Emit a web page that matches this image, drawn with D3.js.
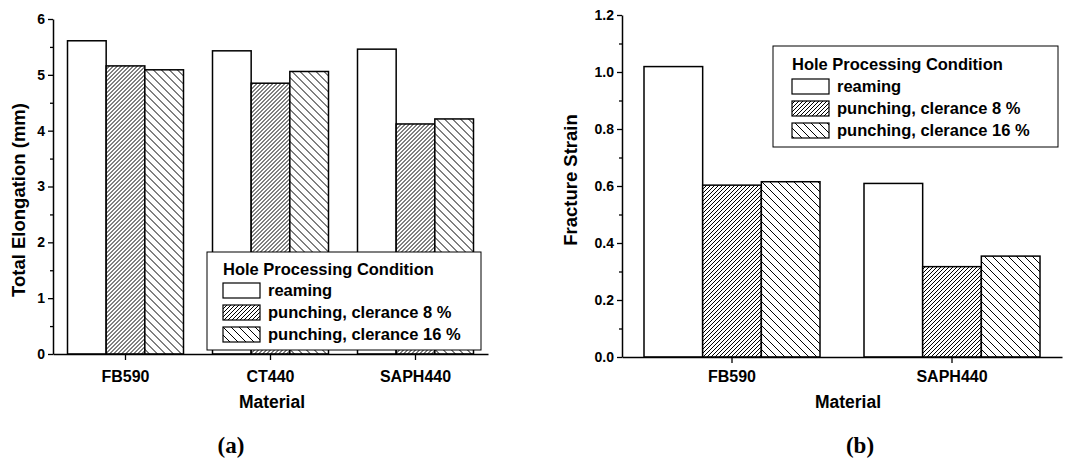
<!DOCTYPE html>
<html><head><meta charset="utf-8">
<script src="https://cdn.jsdelivr.net/npm/d3@7"></script>
<style>
body{margin:0;background:#fff;}
text{font-family:"Liberation Sans",Arial,sans-serif;font-weight:bold;fill:#000;}
</style></head>
<body><svg id="c" width="1075" height="459"></svg>
<script>
// ---- data ----
const seriesNames = ["reaming", "punching, clerance 8 %", "punching, clerance 16 %"];
const legendTitle = "Hole Processing Condition";

const materialsA = ["FB590", "CT440", "SAPH440"];
const reamingA = [5.61, 5.43, 5.46];
const punch8A = [5.16, 4.85, 4.12];
const punch16A = [5.09, 5.06, 4.21];
const yTicksA = [0, 1, 2, 3, 4, 5, 6];
const yMinorA = [0.5, 1.5, 2.5, 3.5, 4.5, 5.5];

const materialsB = ["FB590", "SAPH440"];
const reamingB = [1.019, 0.609];
const punch8B = [0.603, 0.317];
const punch16B = [0.615, 0.354];
const yTicksB = [0, 0.2, 0.4, 0.6, 0.8, 1.0, 1.2];
const yMinorB = [0.1, 0.3, 0.5, 0.7, 0.9, 1.1];

const svg = d3.select("#c");
const defs = svg.append("defs");
// patterns
const p1 = defs.append("pattern").attr("id","fine").attr("patternUnits","userSpaceOnUse")
  .attr("width",4).attr("height",4);
p1.append("rect").attr("width",4).attr("height",4).attr("fill","#fff");
p1.append("path").attr("d","M-1,1 L1,-1 M0,4 L4,0 M3,5 L5,3").attr("stroke","#000").attr("stroke-width",1);
const p2 = defs.append("pattern").attr("id","coarse").attr("patternUnits","userSpaceOnUse")
  .attr("width",8).attr("height",8);
p2.append("rect").attr("width",8).attr("height",8).attr("fill","#fff");
p2.append("path").attr("d","M0,0 L8,8 M-2,6 L2,10 M6,-2 L10,2").attr("stroke","#000").attr("stroke-width",1);
const fills = ["#fff","url(#fine)","url(#coarse)"];

function panel(cfg){
  const g = svg.append("g");
  const x = d3.scaleBand().domain(cfg.materials).range(cfg.xr).paddingInner(0.2).paddingOuter(0.1);
  const x1 = d3.scaleBand().domain([0,1,2]).range([0, x.bandwidth()]);
  const y = d3.scaleLinear().domain(cfg.ydom).range(cfg.yr);
  const rows = cfg.materials.map((m,i)=>({m, vals:[cfg.s[0][i],cfg.s[1][i],cfg.s[2][i]]}));
  const grp = g.selectAll(".grp").data(rows).join("g").attr("transform",d=>`translate(${x(d.m)},0)`);
  grp.selectAll("rect").data(d=>d.vals.map((v,k)=>({v,k}))).join("rect")
    .attr("x",d=>x1(d.k)).attr("width",x1.bandwidth())
    .attr("y",d=>y(d.v)).attr("height",d=>y(cfg.ydom[0])-y(d.v))
    .attr("fill",d=>fills[d.k]).attr("stroke","#000").attr("stroke-width",1.5);
  // axes
  const ya = g.append("g").attr("transform",`translate(${cfg.xr[0]},0)`)
    .call(d3.axisLeft(y).tickValues(cfg.yt).tickFormat(cfg.fmt).tickSize(5).tickSizeOuter(0).tickPadding(3));
  ya.selectAll("text").style("font-size","14px");
  const ym = g.append("g").attr("transform",`translate(${cfg.xr[0]},0)`)
    .call(d3.axisLeft(y).tickValues(cfg.ym).tickFormat("").tickSize(3).tickSizeOuter(0));
  ym.select(".domain").remove();
  const xa = g.append("g").attr("transform",`translate(0,${cfg.yr[0]})`)
    .call(d3.axisBottom(x).tickSize(6).tickSizeOuter(0).tickPadding(cfg.xpad));
  xa.selectAll("text").style("font-size","16px");
  g.selectAll(".domain").attr("stroke","#000").attr("stroke-width",1.5);
  g.selectAll(".tick line").attr("stroke","#000").attr("stroke-width",1.3);
  g.selectAll(".tick text").attr("font-family",null);
  // titles
  g.append("text").attr("x",cfg.mx).attr("y",408).attr("text-anchor","middle").style("font-size","17.5px").text("Material");
  g.append("text").attr("transform",`translate(${cfg.ylx},${cfg.yly}) rotate(-90)`).attr("text-anchor","middle")
    .attr("dy","0.35em").style("font-size","18.5px").text(cfg.ytitle);
  g.append("text").attr("x",cfg.capx).attr("y",453).attr("text-anchor","middle")
    .style("font-family","'Liberation Serif','Times New Roman',serif").style("font-size","23px").text(cfg.cap);
  // legend
  const L = cfg.leg;
  const lg = g.append("g");
  lg.append("rect").attr("x",L.x).attr("y",L.y).attr("width",L.w).attr("height",L.h)
    .attr("fill","#fff").attr("stroke","#000").attr("stroke-width",1);
  lg.append("text").attr("x",L.sx).attr("y",L.ty).style("font-size","16.5px").text(legendTitle);
  seriesNames.forEach((n,k)=>{
    const top = L.rows[k];
    lg.append("rect").attr("x",L.sx).attr("y",top).attr("width",37).attr("height",15)
      .attr("fill",fills[k]).attr("stroke","#000").attr("stroke-width",1.2);
    lg.append("text").attr("x",L.sx+45).attr("y",top+13).style("font-size","16.5px").text(n);
  });
}

panel({materials:materialsA, s:[reamingA,punch8A,punch16A], xr:[53,488], yr:[354,19], ydom:[0,6],
  yt:yTicksA, ym:yMinorA, fmt:d3.format("d"), xpad:11, mx:272, ylx:19, yly:200, ytitle:"Total Elongation (mm)",
  capx:231, cap:"(a)",
  leg:{x:207,y:252,w:274,h:98,sx:223,ty:275,rows:[283,305,327]}});
panel({materials:materialsB, s:[reamingB,punch8B,punch16B], xr:[622,1062], yr:[357,15], ydom:[0,1.2],
  yt:yTicksB, ym:yMinorB, fmt:d3.format(".1f"), xpad:8, mx:848, ylx:571, yly:180, ytitle:"Fracture Strain",
  capx:860, cap:"(b)",
  leg:{x:773,y:46,w:285,h:101,sx:792,ty:70,rows:[79,101,123]}});
</script></body></html>
